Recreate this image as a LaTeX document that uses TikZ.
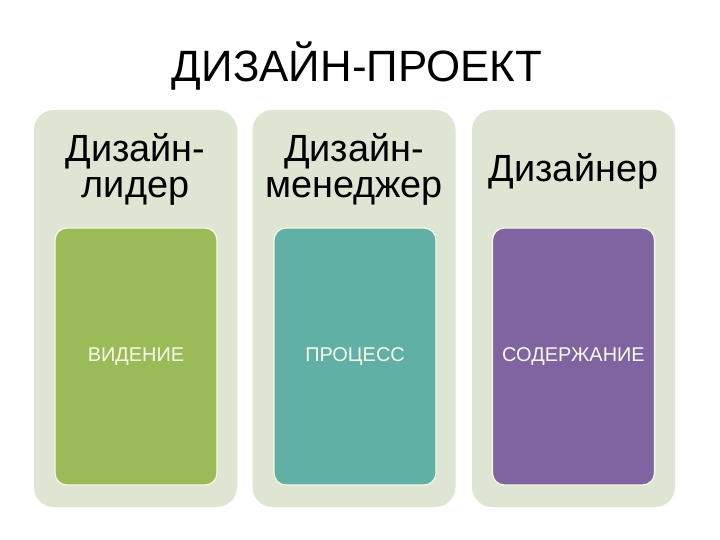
\documentclass[tikz,border=0pt]{standalone}
\usepackage{fontspec}
\setmainfont{Liberation Sans}
\definecolor{panelbg}{RGB}{222,229,211}
\definecolor{visgreen}{RGB}{155,187,89}
\definecolor{proteal}{RGB}{96,176,166}
\definecolor{conpurple}{RGB}{128,100,162}
\definecolor{labelcream}{RGB}{248,250,232}
\tikzset{
	panel/.style={fill=panelbg, rounded corners=20bp, minimum width=203bp, minimum height=397bp},
	card/.style={draw=labelcream, line width=1.2bp, rounded corners=12bp, minimum width=162bp, minimum height=257bp, text=labelcream, font=\fontsize{20}{24}\selectfont},
	role/.style={align=center, font=\fontsize{38}{36}\selectfont}
}
\begin{document}
\begin{tikzpicture}[x=1bp,y=-1bp]
			\tikzstyle{every node}+=[inner sep=0pt]
			\useasboundingbox [fill=white] (0,0) rectangle (720,540);
			\node (title) [font=\fontsize{44}{48}\selectfont, anchor=base] at (357,82) {ДИЗАЙН-ПРОЕКТ};
			% three panels
			\node (leader) [panel] at (135.5,308.5) {};
			\node (manager) [panel] at (354,308.5) {};
			\node (designer) [panel] at (573.5,308.5) {};
			\node (leadertext) [role] at (135.5,169) {Дизайн-\\лидер};
			\node (managertext) [role] at (354,169) {Дизайн-\\менеджер};
			\node (designertext) [role, anchor=base] at (573.5,182) {Дизайнер};
			% inner cards
			\node (vision) [card, fill=visgreen] at (136,356.5) {ВИДЕНИЕ};
			\node (process) [card, fill=proteal] at (355,356.5) {ПРОЦЕСС};
			\node (content) [card, fill=conpurple] at (573.5,356.5) {СОДЕРЖАНИЕ};
		\end{tikzpicture}
\end{document}
